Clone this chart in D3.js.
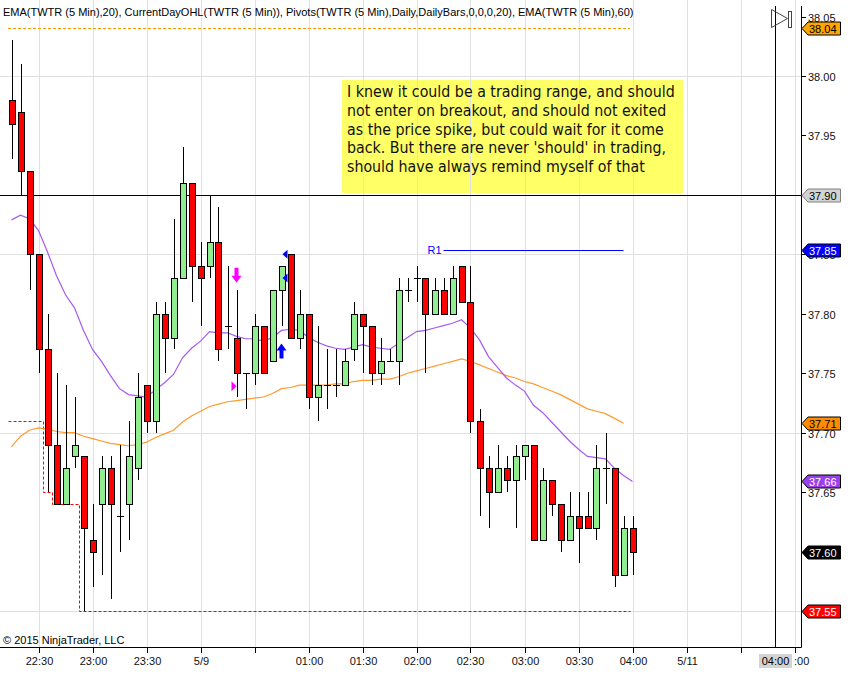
<!DOCTYPE html>
<html><head><meta charset="utf-8">
<script src="https://cdnjs.cloudflare.com/ajax/libs/d3/7.8.5/d3.min.js"></script>
<style>
body{margin:0;background:#fff}
svg{display:block}
text{font-family:"Liberation Sans",Arial,sans-serif}
</style>
</head><body>
<svg id="c" width="848" height="674"></svg>
<script>
// ---------- DATA ----------
const opens  =[37.98,37.97,37.92,37.85,37.77,37.69,37.64,37.68,37.68,37.61,37.64,37.67,37.63,37.64,37.67,37.74,37.71,37.80,37.78,37.83,37.91,37.84,37.84,37.86,37.79,37.78,37.75,37.75,37.79,37.76,37.82,37.85,37.78,37.80,37.73,37.74,37.74,37.74,37.77,37.80,37.79,37.75,37.76,37.76,37.82,37.83,37.83,37.80,37.82,37.80,37.84,37.81,37.71,37.67,37.65,37.67,37.66,37.68,37.69,37.61,37.66,37.64,37.61,37.63,37.63,37.62,37.67,37.67,37.58,37.62];
const highs  =[38.03,38.01,37.92,37.85,37.80,37.75,37.74,37.73,37.68,37.64,37.68,37.68,37.69,37.71,37.75,37.74,37.81,37.81,37.88,37.94,37.91,37.86,37.90,37.89,37.84,37.82,37.75,37.80,37.79,37.82,37.84,37.85,37.82,37.80,37.79,37.77,37.77,37.77,37.81,37.80,37.79,37.78,37.77,37.83,37.83,37.84,37.83,37.83,37.83,37.84,37.84,37.84,37.72,37.68,37.69,37.68,37.69,37.69,37.69,37.67,37.66,37.64,37.65,37.65,37.65,37.69,37.70,37.67,37.63,37.63];
const lows   =[37.93,37.90,37.82,37.75,37.65,37.64,37.64,37.67,37.55,37.57,37.58,37.56,37.60,37.61,37.66,37.70,37.70,37.75,37.77,37.83,37.81,37.79,37.83,37.76,37.77,37.73,37.72,37.74,37.75,37.76,37.79,37.78,37.77,37.72,37.71,37.72,37.73,37.74,37.76,37.75,37.74,37.74,37.76,37.74,37.81,37.81,37.75,37.80,37.80,37.80,37.81,37.70,37.63,37.62,37.65,37.65,37.62,37.66,37.61,37.61,37.63,37.60,37.61,37.59,37.62,37.61,37.64,37.57,37.58,37.58];
const closes =[37.96,37.92,37.85,37.77,37.69,37.64,37.67,37.69,37.62,37.60,37.67,37.64,37.63,37.68,37.73,37.71,37.80,37.78,37.83,37.91,37.84,37.83,37.86,37.77,37.79,37.75,37.75,37.79,37.75,37.82,37.84,37.78,37.80,37.73,37.74,37.74,37.74,37.76,37.80,37.79,37.75,37.76,37.76,37.82,37.82,37.83,37.80,37.82,37.80,37.83,37.81,37.71,37.67,37.65,37.67,37.66,37.68,37.69,37.61,37.66,37.64,37.61,37.63,37.62,37.62,37.67,37.67,37.58,37.62,37.60];
const ema20  =[37.879,37.883,37.880,37.870,37.852,37.832,37.816,37.805,37.786,37.770,37.760,37.748,37.737,37.732,37.731,37.730,37.736,37.742,37.749,37.763,37.771,37.777,37.785,37.784,37.784,37.781,37.779,37.779,37.777,37.780,37.786,37.787,37.786,37.780,37.776,37.773,37.771,37.770,37.772,37.774,37.772,37.771,37.770,37.775,37.780,37.785,37.786,37.788,37.790,37.792,37.795,37.788,37.778,37.764,37.755,37.746,37.740,37.735,37.723,37.717,37.709,37.701,37.693,37.686,37.680,37.679,37.678,37.670,37.664,37.659];
const ema60  =[37.688,37.697,37.702,37.704,37.703,37.701,37.700,37.700,37.697,37.695,37.693,37.691,37.690,37.689,37.690,37.692,37.696,37.699,37.702,37.709,37.714,37.718,37.722,37.724,37.726,37.727,37.728,37.729,37.730,37.733,37.737,37.738,37.740,37.740,37.740,37.740,37.741,37.741,37.743,37.744,37.744,37.745,37.745,37.747,37.750,37.752,37.754,37.756,37.758,37.760,37.762,37.760,37.757,37.754,37.751,37.748,37.746,37.743,37.741,37.738,37.735,37.732,37.728,37.724,37.720,37.718,37.716,37.712,37.708];
const priceTicks=[38.05,38.00,37.95,37.90,37.85,37.80,37.75,37.70,37.65,37.60,37.55];
const gridPrices=[38.00,37.85,37.70,37.55];
const timeTickLabels=["22:30","23:00","23:30","5/9","","01:00","01:30","02:00","02:30","03:00","03:30","04:00","5/11","",""];
const ohlHigh=38.04;
const ohlLowSteps=[{bar:0,price:37.71},{bar:4,price:37.65},{bar:5,price:37.64},{bar:8,price:37.55}];
const r1={price:37.8534,from:48,to:68,label:"R1"};
const hLinePrice=37.90;
const signals=[
  {bar:25,kind:"downArrow",price:37.826,color:"#ff00ff"},
  {bar:25,kind:"rightTri",price:37.739,color:"#ff00ff"},
  {bar:30,kind:"upArrow",price:37.775,color:"#0000ff"},
  {bar:30,kind:"leftTri",price:37.850,color:"#0000ff"},
  {bar:30,kind:"leftTri",price:37.830,color:"#0000ff"}
];
const title="EMA(TWTR (5 Min),20), CurrentDayOHL(TWTR (5 Min)), Pivots(TWTR (5 Min),Daily,DailyBars,0,0,0,20), EMA(TWTR (5 Min),60)";
const noteLines=["I knew it could be a trading range, and should","not enter on breakout, and should not exited","as the price spike, but could wait for it come","back. But there are never 'should' in trading,","should have always remind myself of that"];

// ---------- SCALES ----------
const W=848,H=674, axisX=801, axisY=647;
const start=new Date(2015,4,8,22,15), MIN=60000;
const tAt=i=>new Date(start.getTime()+i*5*MIN);
const x=d3.scaleTime().domain([tAt(0),tAt(69)]).range([11.5,632.5]);
const y=d3.scaleLinear().domain([37.55,38.00]).range([611,76]);
const bx=i=>x(tAt(i));
const svg=d3.select("#c");
const px=v=>Math.round(v)+0.5;

// ---------- GRID ----------
const tickTimes=timeTickLabels.map((d,k)=>new Date(2015,4,8,22,30+30*k));
const g=svg.append("g");
// annotation box first (grid drawn above it)
svg.append("rect").attr("x",342).attr("y",80).attr("width",341).attr("height",113).attr("fill","#ffff66");
const grid=svg.append("g").attr("stroke","#e0e0e0").attr("stroke-width",1);
grid.selectAll("line.v").data(tickTimes).join("line")
  .attr("x1",d=>px(x(d))).attr("x2",d=>px(x(d))).attr("y1",0).attr("y2",axisY);
grid.selectAll("line.h").data(gridPrices).join("line")
  .attr("x1",0).attr("x2",axisX).attr("y1",d=>px(y(d))).attr("y2",d=>px(y(d)));

// note text
const note=svg.append("g");
const nt=note.selectAll("text").data(noteLines).join("text")
  .attr("x",347).attr("y",(d,i)=>97+i*18.8).attr("fill","#111")
  .style("font-family",'"DejaVu Sans Condensed","DejaVu Sans",sans-serif')
  .style("font-size","15px").text(d=>d);
{const w=nt.nodes()[0].getComputedTextLength(); const fs=15*328/w; nt.style("font-size",fs+"px");}

// title
const tt=svg.append("text").attr("x",3).attr("y",16).style("font-size","11px").attr("fill","#000").text(title);
{const w=tt.node().getComputedTextLength(); tt.style("font-size",(11*631/w)+"px");}

// OHL high dashed
svg.append("line").attr("x1",8).attr("x2",630).attr("y1",px(y(ohlHigh))).attr("y2",px(y(ohlHigh)))
  .attr("stroke","#ff9900").attr("stroke-dasharray","3,2");
// OHL low step line
{
  const pts=[];
  ohlLowSteps.forEach((s,k)=>{
    const xs = k===0 ? 8 : bx(s.bar)-4.5;
    if(k>0) pts.push([xs, y(ohlLowSteps[k-1].price)]);
    pts.push([xs, y(s.price)]);
  });
  pts.push([630, y(ohlLowSteps[ohlLowSteps.length-1].price)]);
  svg.append("path").attr("d",d3.line().x(d=>px(d[0])).y(d=>px(d[1]))(pts))
    .attr("fill","none").attr("stroke","#ff0000").attr("stroke-dasharray","3,2");
}

// horizontal line 37.90
svg.append("line").attr("x1",0).attr("x2",axisX).attr("y1",px(y(hLinePrice))).attr("y2",px(y(hLinePrice))).attr("stroke","#000");

// R1
svg.append("line").attr("x1",bx(r1.from)).attr("x2",bx(r1.to)).attr("y1",px(y(r1.price))).attr("y2",px(y(r1.price))).attr("stroke","#0000ff");
svg.append("text").attr("x",bx(r1.from)-16).attr("y",y(r1.price)+4).attr("fill","#0000ff").style("font-size","11px").text(r1.label);

// EMAs
const line=d3.line().x((d,i)=>bx(i)).y(d=>y(d));
svg.append("path").attr("d",line(ema60)).attr("fill","none").attr("stroke","#ff9a2e").attr("stroke-width",1.2);
svg.append("path").attr("d",line(ema20)).attr("fill","none").attr("stroke","#a65af0").attr("stroke-width",1.2);

// candles
const bars=d3.range(opens.length).map(i=>({i,o:opens[i],h:highs[i],l:lows[i],c:closes[i]}));
const cg=svg.append("g");
bars.forEach(b=>{
  const cx=px(bx(b.i));
  cg.append("line").attr("x1",cx).attr("x2",cx).attr("y1",Math.round(y(b.h))).attr("y2",Math.round(y(b.l))).attr("stroke","#000");
  if(b.o===b.c){
    cg.append("line").attr("x1",cx-3.5).attr("x2",cx+3.5).attr("y1",px(y(b.o))).attr("y2",px(y(b.o))).attr("stroke","#000");
  } else {
    const t=Math.round(y(Math.max(b.o,b.c))), bt=Math.round(y(Math.min(b.o,b.c)));
    cg.append("rect").attr("x",cx-3).attr("y",t+0.5).attr("width",6).attr("height",bt-t)
      .attr("fill",b.c>b.o?"#90ee90":"#ff0000").attr("stroke","#000");
  }
});

// signals
signals.forEach(s=>{
  const cx=bx(s.bar), cy=y(s.price);
  let d;
  if(s.kind==="downArrow") d=`M${cx-2},${cy-15}L${cx+2},${cy-15}L${cx+2},${cy-7}L${cx+5},${cy-7}L${cx},${cy}L${cx-5},${cy-7}L${cx-2},${cy-7}Z`;
  if(s.kind==="upArrow") d=`M${cx},${cy}L${cx+5},${cy+7}L${cx+2},${cy+7}L${cx+2},${cy+15}L${cx-2},${cy+15}L${cx-2},${cy+7}L${cx-5},${cy+7}Z`;
  if(s.kind==="rightTri") d=`M${cx-5},${cy-5}L${cx},${cy}L${cx-5},${cy+5}Z`;
  if(s.kind==="leftTri") d=`M${cx+6},${cy-4.5}L${cx+1},${cy}L${cx+6},${cy+4.5}Z`;
  svg.append("path").attr("d",d).attr("fill",s.color);
});

// frame lines
svg.append("line").attr("x1",775.5).attr("x2",775.5).attr("y1",6).attr("y2",axisY).attr("stroke","#000");
svg.append("line").attr("x1",axisX+0.5).attr("x2",axisX+0.5).attr("y1",6).attr("y2",axisY+0.5).attr("stroke","#000");
svg.append("line").attr("x1",0).attr("x2",axisX+0.5).attr("y1",axisY+0.5).attr("y2",axisY+0.5).attr("stroke","#000");
// play icon
svg.append("path").attr("d","M771.5,9.5L787.5,18.5L771.5,27.5Z").attr("fill","none").attr("stroke","#444");
svg.append("rect").attr("x",788.5).attr("y",11.5).attr("width",3).attr("height",16).attr("fill","#fff").attr("stroke","#444");

// x axis ticks & labels
const xa=svg.append("g");
tickTimes.forEach((t,k)=>{
  const xx=px(x(t));
  xa.append("line").attr("x1",xx).attr("x2",xx).attr("y1",axisY).attr("y2",axisY+6).attr("stroke","#000");
  if(timeTickLabels[k]) xa.append("text").attr("x",xx).attr("y",665).attr("text-anchor","middle").style("font-size","11px").attr("fill","#111").text(timeTickLabels[k]);
});
svg.append("rect").attr("x",759).attr("y",654).attr("width",33).attr("height",14).attr("fill","#d3d3d3");
svg.append("text").attr("x",775.5).attr("y",665).attr("text-anchor","middle").style("font-size","11px").attr("fill","#000").text("04:00");
svg.append("text").attr("x",794).attr("y",665).style("font-size","11px").attr("fill","#111").text(":00");

// copyright
svg.append("text").attr("x",3).attr("y",644).style("font-size","11px").attr("fill","#000").text("© 2015 NinjaTrader, LLC");

// y axis ticks & labels
const ya=svg.append("g");
priceTicks.forEach(p=>{
  const yy=px(y(p));
  ya.append("line").attr("x1",axisX).attr("x2",axisX+5).attr("y1",yy).attr("y2",yy).attr("stroke","#000");
  ya.append("text").attr("x",808).attr("y",yy+4).style("font-size","11px").attr("fill","#111").text(p.toFixed(2));
});

// value boxes
const boxes=[
  {v:ohlHigh,fill:"#ffa500",tc:"#000",sc:"#000"},
  {v:hLinePrice,fill:"#d3d3d3",tc:"#000",sc:"#808080"},
  {v:r1.price,fill:"#0000ff",tc:"#fff",sc:"#000"},
  {v:ema60[ema60.length-1],fill:"#ff8c00",tc:"#000",sc:"#000"},
  {v:ema20[ema20.length-1],fill:"#9a40e8",tc:"#fff",sc:"#000"},
  {v:closes[closes.length-1],fill:"#000",tc:"#fff",sc:"#000"},
  {v:ohlLowSteps[ohlLowSteps.length-1].price,fill:"#ff0000",tc:"#fff",sc:"#000"}
];
boxes.forEach(b=>{
  const yy=Math.round(y(b.v))+0.5;
  svg.append("path").attr("d",`M${axisX+1},${yy}L${axisX+7},${yy-6.5}L840.5,${yy-6.5}L840.5,${yy+6.5}L${axisX+7},${yy+6.5}Z`)
    .attr("fill",b.fill).attr("stroke",b.sc);
  svg.append("text").attr("x",809).attr("y",yy+4).style("font-size","11px").attr("fill",b.tc).text(b.v.toFixed(2));
});
</script>
</body></html>
